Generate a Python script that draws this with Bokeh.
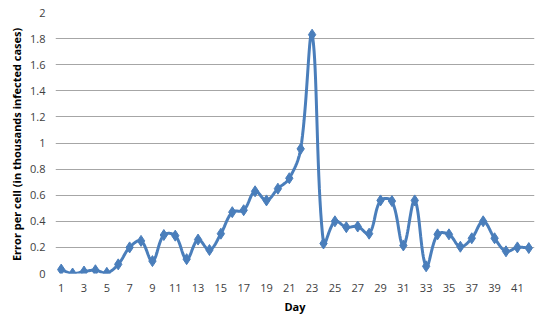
import numpy as np
from bokeh.plotting import figure
from bokeh.models import FixedTicker, Range1d
from bokeh.embed import file_html
from bokeh.resources import INLINE

days = list(range(1, 43))
errors = [0.03, 0.0, 0.015, 0.025, 0.005, 0.07, 0.2, 0.25, 0.095, 0.295,
          0.29, 0.11, 0.26, 0.18, 0.305, 0.47, 0.485, 0.63, 0.56, 0.65,
          0.73, 0.955, 1.83, 0.23, 0.4, 0.355, 0.36, 0.305, 0.56, 0.555,
          0.215, 0.56, 0.055, 0.3, 0.3, 0.205, 0.27, 0.4, 0.27, 0.17,
          0.2, 0.195]
x_ticks = list(range(1, 43, 2))
y_ticks = [0, 0.2, 0.4, 0.6, 0.8, 1, 1.2, 1.4, 1.6, 1.8, 2]

LINE = "#4a7ebb"
FONT = "Open Sans"


def smooth(xs, ys, sx=11.4, sy=130.5, k=0.36, n=20):
    """Excel-like smoothed line: Bezier segments with length-weighted tangents."""
    P = np.column_stack([np.asarray(xs, float) * sx, np.asarray(ys, float) * sy])
    m = len(P)
    L = np.linalg.norm(np.diff(P, axis=0), axis=1)
    cin = P.copy()
    cout = P.copy()
    for i in range(m):
        if i == 0:
            d = P[1] - P[0]
            cout[i] = P[0] + d * k * 0.5
            continue
        if i == m - 1:
            d = P[i] - P[i - 1]
            cin[i] = P[i] - d * k * 0.5
            continue
        d = P[i + 1] - P[i - 1]
        tot = L[i - 1] + L[i]
        cin[i] = P[i] - d * k * L[i - 1] / tot
        cout[i] = P[i] + d * k * L[i] / tot
    t = np.linspace(0, 1, n, endpoint=False)[:, None]
    pts = []
    for i in range(m - 1):
        b = ((1 - t) ** 3) * P[i] + 3 * (1 - t) ** 2 * t * cout[i] \
            + 3 * (1 - t) * t ** 2 * cin[i + 1] + t ** 3 * P[i + 1]
        pts.append(b)
    pts.append(P[-1:])
    pts = np.vstack(pts)
    return pts[:, 0] / sx, pts[:, 1] / sy


sx, sy = smooth(days, errors)

p = figure(width=550, height=321, output_backend="svg", toolbar_location=None,
           x_range=Range1d(0.5, 42.5), y_range=Range1d(0, 2),
           min_border_left=55, min_border_right=16, min_border_top=12,
           min_border_bottom=48)
p.outline_line_color = None
p.background_fill_color = "white"

p.line(sx, sy, line_color=LINE, line_width=3)
p.scatter(x=days, y=errors, marker="diamond", size=11, fill_color=LINE,
          line_color=LINE)

p.xgrid.visible = False
p.ygrid.grid_line_color = "#a6a6a6"
p.ygrid.grid_line_width = 1.2
p.ygrid.ticker = FixedTicker(ticks=y_ticks)

p.xaxis.ticker = FixedTicker(ticks=x_ticks)
p.yaxis.ticker = FixedTicker(ticks=y_ticks)
p.yaxis.major_label_overrides = {0: "0", 1: "1", 2: "2"}
for ax in (p.xaxis[0], p.yaxis[0]):
    ax.axis_line_color = None
    ax.major_tick_line_color = None
    ax.minor_tick_line_color = None
    ax.major_tick_in = 0
    ax.major_tick_out = 0
    ax.major_label_text_font = FONT
    ax.major_label_text_font_size = "11px"
    ax.major_label_text_color = "#404040"
    ax.axis_label_text_font = FONT
    ax.axis_label_text_font_size = "11px"
    ax.axis_label_text_font_style = "bold"
    ax.axis_label_text_color = "#000000"

p.xaxis.axis_label = "Day"
p.yaxis.axis_label = "Error per cell  (in thousands infected cases)"
p.xaxis.major_label_standoff = 10
p.yaxis.major_label_standoff = 10
p.xaxis.axis_label_standoff = 4
p.yaxis.axis_label_standoff = 3

open("out.html", "w").write(file_html(p, INLINE))
